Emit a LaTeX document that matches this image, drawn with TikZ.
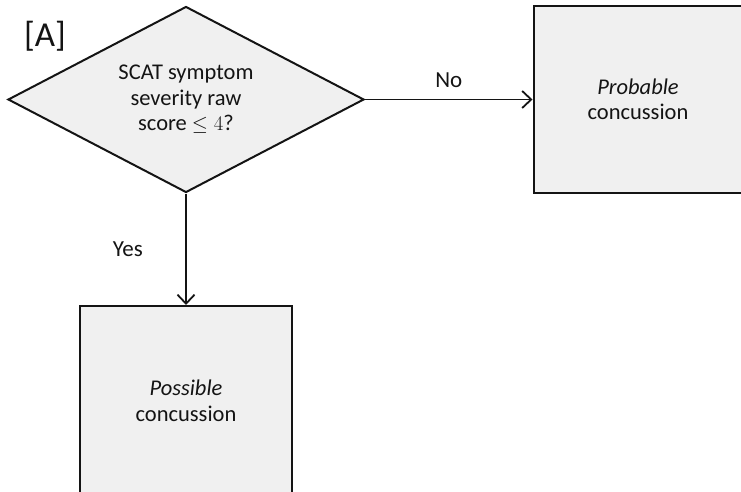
\documentclass[tikz,border=0pt]{standalone}
\usepackage{fontspec}
\setmainfont{Carlito}
\usetikzlibrary{shapes.geometric,arrows.meta}
\definecolor{boxfill}{HTML}{F0F0F0}
\definecolor{ink}{HTML}{141414}
\begin{document}
\begin{tikzpicture}[x=1pt,y=-1pt,
  every node/.style={text=ink},
  shapebox/.style={draw=ink,line width=2pt,fill=boxfill,inner sep=0pt,align=center,
    font=\fontsize{22.5}{25.5}\selectfont},
  conn/.style={draw=ink,line width=1.8pt,-{Straight Barb[length=9pt,width=17pt,line width=1.8pt]}},
  lbl/.style={font=\fontsize{23}{24}\selectfont}]
\useasboundingbox (0,0) rectangle (741,492);
\clip (0,0) rectangle (741,492);
\node[lbl,font=\fontsize{35}{38}\selectfont] (tag) at (45,36) {[A]};
\node[shapebox,diamond,aspect=1.91,minimum width=356pt,minimum height=186pt] (q) at (186,99.5)
  {SCAT symptom\\severity raw\\score $\leq 4$?};
\node[shapebox,rectangle,minimum width=209pt,minimum height=187pt] (prob) at (638,99.5)
  {\textit{Probable}\\concussion};
\node[shapebox,rectangle,minimum width=212pt,minimum height=190pt] (poss) at (186,401)
  {\textit{Possible}\\concussion};
\draw[conn] (q.east) -- (prob.west) node[lbl,midway,above=8pt] (no) {No};
\draw[conn] (q.south) -- (poss.north) node[lbl,midway,left=39pt] (yes) {Yes};
\end{tikzpicture}
\end{document}
